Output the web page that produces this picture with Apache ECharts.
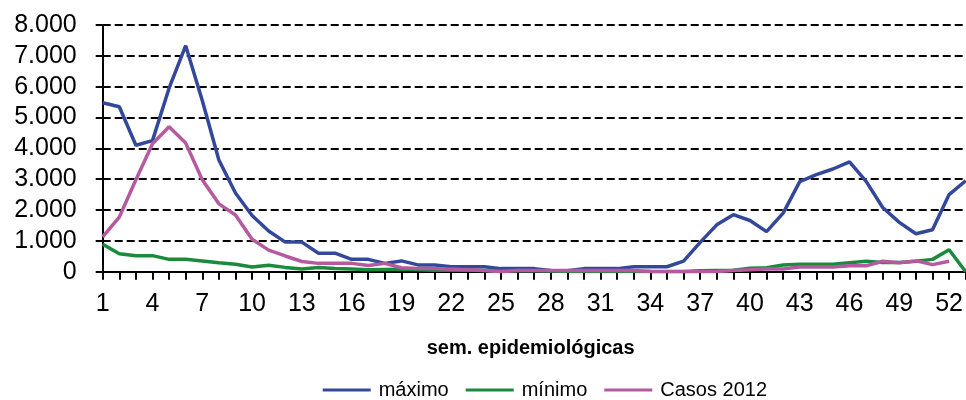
<!DOCTYPE html>
<html>
<head>
<meta charset="utf-8">
<script src="https://cdn.jsdelivr.net/npm/echarts@6/dist/echarts.min.js"></script>
<style>html,body{margin:0;padding:0;background:#fff;}#c{width:966px;height:400px;}</style>
</head>
<body>
<div id="c"></div>
<script>
var weeks = ['1','2','3','4','5','6','7','8','9','10','11','12','13','14','15','16','17','18','19','20','21','22','23','24','25','26','27','28','29','30','31','32','33','34','35','36','37','38','39','40','41','42','43','44','45','46','47','48','49','50','51','52','53'];
var maximo = [5480,5350,4100,4250,5950,7330,5550,3620,2550,1820,1320,960,960,600,600,400,400,270,350,220,220,160,160,160,100,100,100,40,30,100,100,100,160,160,160,340,950,1520,1850,1660,1300,1900,2920,3150,3330,3560,2930,2080,1600,1230,1360,2500,2950];
var minimo = [890,580,520,520,400,400,350,290,240,150,210,140,90,140,100,90,60,70,80,60,50,50,50,40,30,30,30,20,10,5,5,5,5,5,10,10,30,40,50,110,130,220,240,240,240,290,340,300,300,340,400,710,0];
var casos2012 = [1130,1770,2980,4150,4700,4170,2980,2200,1840,1050,700,510,330,270,270,270,200,270,130,100,100,80,60,40,0,40,40,40,40,40,40,40,40,10,0,0,0,10,40,60,90,90,150,150,150,190,190,340,290,350,230,340,null];
var seriesNames = ['máximo','mínimo','Casos 2012'];
var colors = ['#34489b','#1b8a3c','#b65aa0'];
var xTitle = 'sem. epidemiológicas';

var FONT = "'Liberation Sans', Arial, sans-serif";
var chart = echarts.init(document.getElementById('c'), null, {renderer:'canvas'});
function fmt(v){ if(v===0) return '0'; return (v/1000) + '.000'; }
var mk = function(name, data, color){
  return {name:name, type:'line', data:data, showSymbol:false, symbol:'none', animation:false,
    lineStyle:{color:color, width:3.5}, itemStyle:{color:color}, connectNulls:false};
};
chart.setOption({
  backgroundColor:'#fff',
  animation:false,
  grid:{left:102.7, right:-3.4, top:25, bottom:128.3, containLabel:false},
  xAxis:{type:'category', data:weeks, boundaryGap:false,
    axisLine:{show:true, lineStyle:{color:'#000', width:2}},
    axisTick:{show:true, interval:0, length:8, lineStyle:{color:'#000', width:2}},
    axisLabel:{interval:2, fontSize:25, color:'#000', margin:20, fontFamily:FONT},
    splitLine:{show:false}},
  yAxis:{type:'value', min:0, max:8000, interval:1000,
    axisLine:{show:true, lineStyle:{color:'#000', width:2}},
    axisTick:{show:true, length:7, lineStyle:{color:'#000', width:2}},
    axisLabel:{fontSize:25, color:'#000', margin:26, fontFamily:FONT, formatter:fmt},
    splitLine:{show:true, lineStyle:{color:'#000', width:1.8, type:[8,4]}}},
  legend:{data:seriesNames, left:322.7, top:379, padding:0, icon:'rect', itemWidth:48, itemHeight:3, itemGap:17,
    textStyle:{fontSize:20, color:'#000', fontFamily:FONT, padding:[0,0,0,3], lineHeight:22}},
  graphic:[{type:'text', left:426.7, top:338,
    style:{text:xTitle, font:"bold 20px 'Liberation Sans', Arial, sans-serif", fill:'#000'}}],
  series:[mk(seriesNames[0], maximo, colors[0]), mk(seriesNames[1], minimo, colors[1]), mk(seriesNames[2], casos2012, colors[2])]
});
</script>
</body>
</html>
